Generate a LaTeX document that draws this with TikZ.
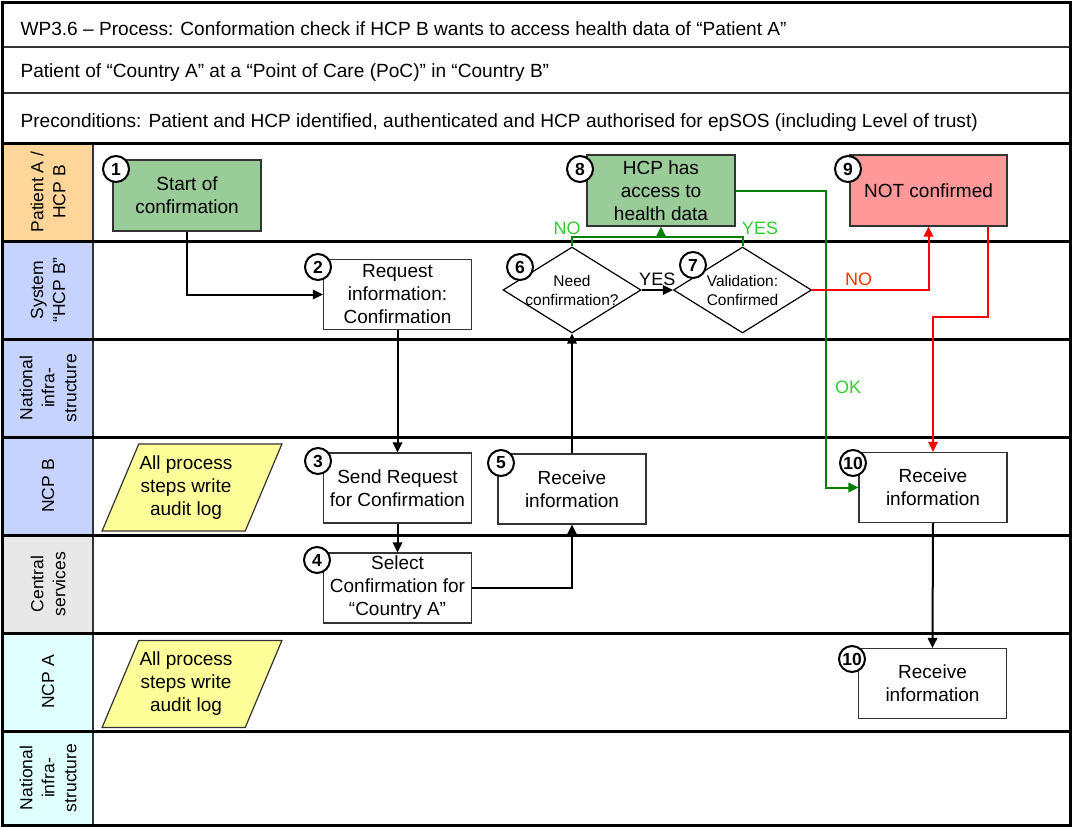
\documentclass[tikz,border=0pt]{standalone}
\usepackage{fontspec}
\setmainfont{Liberation Sans}
\usetikzlibrary{positioning,arrows.meta,shapes.geometric}

\definecolor{laneorange}{HTML}{FFD699}
\definecolor{laneblue}{HTML}{C6D3FF}
\definecolor{lanegray}{HTML}{E8E8E8}
\definecolor{lanecyan}{HTML}{E0FFFF}
\definecolor{startgreen}{HTML}{99CC99}
\definecolor{stopred}{HTML}{FF9999}
\definecolor{audityellow}{HTML}{FFFF99}
\definecolor{okgreen}{HTML}{008000}
\definecolor{oklight}{HTML}{33CC33}
\definecolor{nored}{HTML}{FF0000}
\definecolor{nolight}{HTML}{FF3300}

\newcommand{\auditlog}{\hspace*{-12pt}\begin{tabular}{@{}c@{}}All process\\steps write\\audit log\end{tabular}}

\begin{document}
\begin{tikzpicture}[x=1pt, y=-1pt,
  task/.style = {draw=black!80, line width=1.2pt, fill=white, minimum width=148pt, minimum height=70pt, inner sep=1pt, align=center, font=\fontsize{19}{23}\selectfont},
  decision/.style = {diamond, draw=black, line width=1.2pt, fill=white, minimum width=138pt, minimum height=86pt, inner sep=0pt},
  dectext/.style = {align=center, font=\fontsize{15.5}{19}\selectfont},
  stepno/.style = {circle, draw=black, line width=2pt, fill=white, minimum size=26pt, inner sep=0pt, font=\bfseries\fontsize{17.5}{17.5}\selectfont},
  audit/.style = {trapezium, trapezium left angle=68, trapezium right angle=112, trapezium stretches=true, draw=black!80, line width=1.2pt, fill=audityellow, minimum width=180pt, minimum height=87pt, inner sep=0pt, font=\fontsize{19}{23}\selectfont},
  lanelabel/.style = {rotate=90, align=center, font=\fontsize{17.5}{22}\selectfont},
  headtext/.style = {anchor=base west, font=\fontsize{19.1}{23}\selectfont},
  tip/.style = {-{Triangle[length=10pt,width=9.5pt]}},
  flow/.style = {draw=black, line width=2pt, tip},
  okflow/.style = {draw=okgreen, line width=2pt},
  noflow/.style = {draw=nored, line width=2pt},
  oklabel/.style = {text=oklight, font=\fontsize{18}{18}\selectfont},
  nolabel/.style = {text=nolight, font=\fontsize{18}{18}\selectfont}
]
\useasboundingbox (0,0) rectangle (1072,827);

% lanes
\foreach \ytop/\fillc/\txt [count=\i] in {143/laneorange/{Patient A /\\HCP B}, 241/laneblue/{System\\“HCP B”}, 339/laneblue/{National\\infra-\\structure}, 437/laneblue/{NCP B}, 535/lanegray/{Central\\services}, 633/lanecyan/{NCP A}, 731/lanecyan/{National\\infra-\\structure}} {
  \pgfmathsetmacro{\ybot}{min(\ytop+98,825)}
  \fill[\fillc] (3,\ytop) rectangle (93,\ybot);
  \node[lanelabel] (lane\i) at (48,{(\ytop+\ybot)/2}) {\txt};
}
\draw[black!80, line width=1.2pt] (2,47) -- (1070,47) (2,93) -- (1070,93);
\draw[black!80, line width=1.2pt] (93,143) -- (93,825);
\foreach \y in {143,241,...,731}
  \draw[black, line width=3pt] (2,\y) -- (1070,\y);
\draw[black, line width=3pt] (2,2) rectangle (1070,825);

% header
\node[headtext] (title) at (17,35) {WP3.6 – Process: Conformation check if HCP B wants to access health data of “Patient A”};
\node[headtext] (setting) at (17,77) {Patient of “Country A” at a “Point of Care (PoC)” in “Country B”};
\node[headtext] (precond) at (17,127) {Preconditions: Patient and HCP identified, authenticated and HCP authorised for epSOS (including Level of trust)};

% process steps
\node[task, fill=startgreen, minimum height=71pt] (start) at (187,195.5) {Start of\\confirmation};
\node[task] (request) at (397.5,294.5) {Request\\information:\\Confirmation};
\node[task] (sendreq) at (397.5,488) {Send Request\\for Confirmation};
\node[task] (select) at (397.5,588) {Select\\Confirmation for\\“Country A”};
\node[task] (recv5) at (572,489) {Receive\\information};
\node[decision, label={[dectext]center:{Need\\confirmation?}}] (needconf) at (572,290) {};
\node[decision, label={[dectext]center:{Validation:\\Confirmed}}] (validate) at (742.5,290) {};
\node[task, fill=startgreen, minimum height=71pt] (access) at (661,190.5) {HCP has\\access to\\health data};
\node[task, fill=stopred, minimum width=157pt, minimum height=71pt] (notconf) at (928.5,190.5) {NOT confirmed};
\node[task] (recvB) at (933,487.5) {Receive\\information};
\node[task] (recvA) at (932.5,683.5) {Receive\\information};
\node[audit] (auditB) at (192,487.5) {\auditlog};
\node[audit] (auditA) at (192,684) {\auditlog};

% step numbers
\node[stepno] (n1) at (116,169) {1};
\node[stepno] (n2) at (318,267) {2};
\node[stepno] (n3) at (318,461) {3};
\node[stepno] (n4) at (317,560) {4};
\node[stepno] (n5) at (501,463) {5};
\node[stepno] (n6) at (520,267) {6};
\node[stepno] (n7) at (693,265) {7};
\node[stepno] (n8) at (580,169) {8};
\node[stepno] (n9) at (848,169) {9};
\node[stepno] (n10) at (853,463) {10};
\node[stepno] (n11) at (852,659) {10};

% connectors
\draw[flow] (start.south) |- (request.west);
\draw[flow] (request.south) -- (sendreq.north);
\draw[flow] (sendreq.south) -- (select.north);
\draw[flow] (select.east) -| (recv5.south);
\draw[flow] (recv5.north) -- (needconf.south);
\draw[flow] (needconf.east) -- node[above, font=\fontsize{18}{18}\selectfont] {YES} (validate.west);

\coordinate (okjoin) at (661,237);
\draw[okflow] (needconf.north) |- (okjoin) -| (validate.north);
\draw[okflow, tip] (okjoin) -- (access.south);
\node[oklabel] (no6) at (567,228) {NO};
\node[oklabel] (yes7) at (760,228) {YES};
\draw[okflow, tip] (access.east) -| ([xshift=-32pt]recvB.west) -- (recvB.west);
\node[oklabel] (okmark) at (848,387) {OK};

\draw[noflow, tip] (validate.east) -| node[pos=0.2, above, nolabel] {NO} (notconf.south);
\draw[noflow, tip] ([xshift=59pt]notconf.south) -- ++(0,90) -| (recvB.north);
\draw[flow] (recvB.south) -- (recvA.north);
\end{tikzpicture}
\end{document}
